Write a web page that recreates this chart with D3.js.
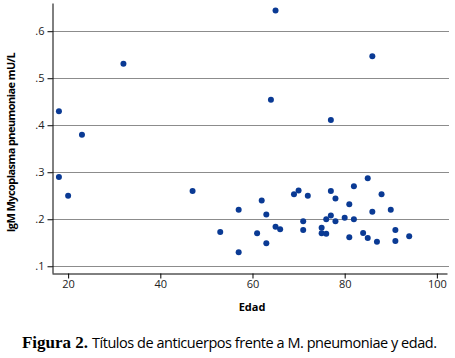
<!DOCTYPE html>
<html>
<head>
<meta charset="utf-8">
<script src="https://cdn.jsdelivr.net/npm/d3@7"></script>
<style>
  body { margin: 0; background: #fff; }
  svg { display: block; }
  .axis text { font-family: "Open Sans", "Noto Sans", sans-serif; font-size: 11px; fill: #222; }
  .axis path, .axis line { stroke: #000; }
</style>
</head>
<body>
<div id="chart"></div>
<script>
// edad (años) y títulos IgM
const ages = [18, 23, 32, 65, 64, 86, 77, 18, 20, 47,
              57, 53, 57, 62, 63, 61, 63, 65, 66, 69,
              70, 72, 71, 71, 85, 82, 77, 78, 88, 81,
              86, 90, 77, 76, 78, 80, 82, 75, 75, 76,
              81, 84, 85, 87, 91, 91, 94];
const igm = [.430, .380, .531, .644, .454, .547, .411, .290, .250, .260,
             .220, .173, .130, .240, .210, .170, .149, .184, .179, .253,
             .261, .250, .196, .177, .287, .270, .260, .244, .253, .232,
             .216, .220, .208, .200, .196, .203, .200, .182, .170, .169,
             .162, .171, .160, .152, .177, .154, .164];
const yTicks = [.1, .2, .3, .4, .5, .6];
const xTicks = [20, 40, 60, 80, 100];

const width = 455, height = 358;
const plotLeft = 52, plotRight = 447, plotTop = 3, plotBottom = 273;

const svg = d3.select("#chart").append("svg")
    .attr("width", width)
    .attr("height", height);

const x = d3.scaleLinear().domain([16.5, 102.2]).range([plotLeft, plotRight]);
const y = d3.scaleLinear().domain([0.0857, 0.66]).range([plotBottom, plotTop]);

// squeeze a text to a target width with letter spacing
function fitWidth(sel, target) {
    const node = sel.node();
    const n = node.textContent.length;
    const w = node.getComputedTextLength();
    sel.style("letter-spacing", ((target - w) / (n - 1)) + "px");
}

// gridlines
svg.append("g")
    .selectAll("line")
    .data(yTicks)
    .join("line")
    .attr("x1", plotLeft)
    .attr("x2", 449)
    .attr("y1", d => Math.round(y(d)) + 0.5)
    .attr("y2", d => Math.round(y(d)) + 0.5)
    .attr("stroke", "#8c8c8c")
    .attr("stroke-width", 1);

// axes
svg.append("g")
    .attr("class", "axis")
    .attr("transform", `translate(${plotLeft + 0.5},0)`)
    .call(d3.axisLeft(y).tickValues(yTicks).tickSize(5).tickSizeOuter(0)
        .tickFormat(d => d3.format(".1f")(d).replace(/^0/, "")))
    .call(g => g.selectAll(".tick text").attr("x", -8));

svg.append("g")
    .attr("class", "axis")
    .attr("transform", `translate(0,${plotBottom + 0.5})`)
    .call(d3.axisBottom(x).tickValues(xTicks).tickSize(5).tickSizeOuter(0))
    .call(g => g.selectAll(".tick text").attr("y", 7));

// points
svg.append("g")
    .selectAll("circle")
    .data(ages.map((a, i) => ({ age: a, v: igm[i] })))
    .join("circle")
    .attr("cx", d => x(d.age))
    .attr("cy", d => y(d.v))
    .attr("r", 3)
    .attr("fill", "#0a3a94");

// axis titles
const yTitle = svg.append("text")
    .attr("transform", "translate(15,142.5) rotate(-90)")
    .attr("text-anchor", "middle")
    .style("font-family", "'Open Sans', 'Noto Sans', sans-serif")
    .style("font-size", "11px")
    .style("font-weight", "bold")
    .text("IgM Mycoplasma pneumoniae mU/L");
fitWidth(yTitle, 180);

svg.append("text")
    .attr("x", 252)
    .attr("y", 310.5)
    .attr("text-anchor", "middle")
    .style("font-family", "'Open Sans', 'Noto Sans', sans-serif")
    .style("font-size", "11px")
    .style("font-weight", "bold")
    .text("Edad");

// caption
const capLabel = svg.append("text")
    .attr("x", 22)
    .attr("y", 348)
    .style("font-family", "'Liberation Serif', serif")
    .style("font-size", "17px")
    .style("font-weight", "bold")
    .text("Figura 2.");
fitWidth(capLabel, 66);

const capText = svg.append("text")
    .attr("x", 92)
    .attr("y", 348)
    .style("font-family", "'Open Sans', 'Noto Sans', sans-serif")
    .style("font-size", "14.5px")
    .text("Títulos de anticuerpos frente a M. pneumoniae y edad.");
fitWidth(capText, 345);
</script>
</body>
</html>
